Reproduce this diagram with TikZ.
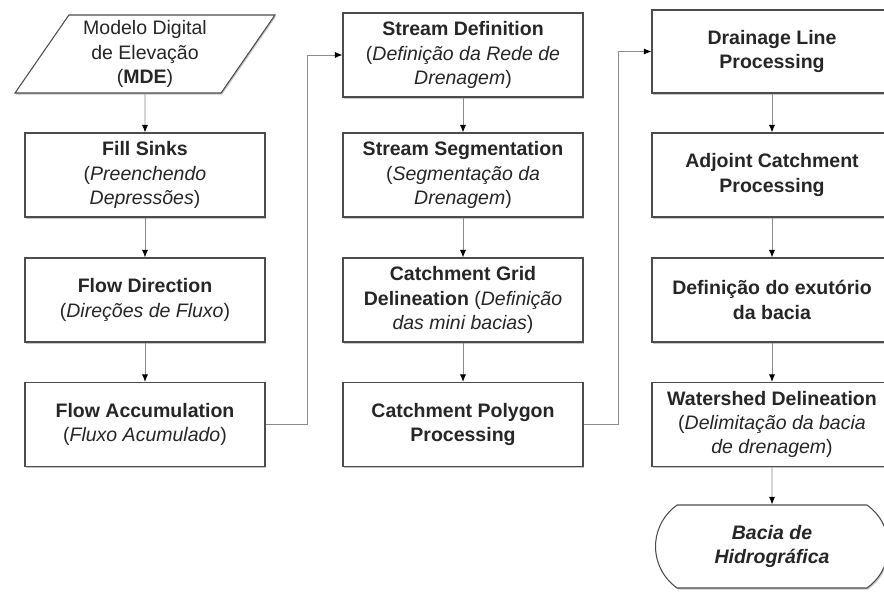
\documentclass[tikz,border=0pt]{standalone}
\usepackage{fontspec}
\setmainfont{Liberation Sans}
\usetikzlibrary{arrows.meta,shapes.geometric,shapes.misc,shadows}
\tikzset{
  proc/.style={draw=black!70, fill=white, line width=0.6pt, align=center, minimum width=4.8cm, minimum height=1.68cm, inner sep=2pt, font=\fontsize{11.1}{13.9}\selectfont, text=black!85, drop shadow={shadow xshift=0.6pt, shadow yshift=-0.9pt, opacity=0.45}},
  datain/.style={proc, trapezium, trapezium left angle=58, trapezium right angle=122, trapezium stretches=true, minimum width=5.2cm, minimum height=1.56cm},
  term/.style={proc, rounded rectangle, rounded rectangle arc length=110, minimum height=1.66cm},
  flow/.style={draw=black!45, line width=0.5pt, -{Latex[length=1.5mm,width=1.2mm,color=black]}}
}

\begin{document}
\begin{tikzpicture}
\useasboundingbox (0,0) rectangle (17.68,-11.84);
% first column
\node[datain] (mde) at (2.9,-1.08) {Modelo Digital\\de Elevação\\(\textbf{MDE})};
\node[proc] (fill) at (2.9,-3.5) {\textbf{Fill Sinks}\\(\textit{Preenchendo}\\\textit{Depressões})};
\node[proc] (flowdir) at (2.9,-6.0) {\textbf{Flow Direction}\\(\textit{Direções de Fluxo})};
\node[proc] (flowacc) at (2.9,-8.49) {\textbf{Flow Accumulation}\\(\textit{Fluxo Acumulado})};
% second column
\node[proc] (streamdef) at (9.26,-1.1) {\textbf{Stream Definition}\\(\textit{Definição da Rede de}\\\textit{Drenagem})};
\node[proc] (streamseg) at (9.26,-3.5) {\textbf{Stream Segmentation}\\(\textit{Segmentação da}\\\textit{Drenagem})};
\node[proc] (catchgrid) at (9.26,-6.0) {\textbf{Catchment Grid}\\\textbf{Delineation} (\textit{Definição}\\\textit{das mini bacias})};
\node[proc] (catchpoly) at (9.26,-8.49) {\textbf{Catchment Polygon}\\\textbf{Processing}};
% third column
\node[proc, minimum height=1.66cm] (drainage) at (15.44,-1.03) {\textbf{Drainage Line}\\\textbf{Processing}};
\node[proc] (adjoint) at (15.44,-3.5) {\textbf{Adjoint Catchment}\\\textbf{Processing}};
\node[proc] (exutorio) at (15.44,-6.0) {\textbf{Definição do exutório}\\\textbf{da bacia}};
\node[proc] (watershed) at (15.44,-8.49) {\textbf{Watershed Delineation}\\(\textit{Delimitação da bacia}\\\textit{de drenagem})};
\node[term] (bacia) at (15.44,-10.93) {\textbf{\textit{Bacia de}}\\\textbf{\textit{Hidrográfica}}};
% connectors
\draw[flow] (mde) -- (fill);
\draw[flow] (fill) -- (flowdir);
\draw[flow] (flowdir) -- (flowacc);
\draw[flow] (flowacc.east) -- ++(0.84,0) |- (streamdef.west);
\draw[flow] (streamdef) -- (streamseg);
\draw[flow] (streamseg) -- (catchgrid);
\draw[flow] (catchgrid) -- (catchpoly);
\draw[flow] (catchpoly.east) -- ++(0.7,0) |- (drainage.west);
\draw[flow] (drainage) -- (adjoint);
\draw[flow] (adjoint) -- (exutorio);
\draw[flow] (exutorio) -- (watershed);
\draw[flow] (watershed) -- (bacia);
\end{tikzpicture}
\end{document}
